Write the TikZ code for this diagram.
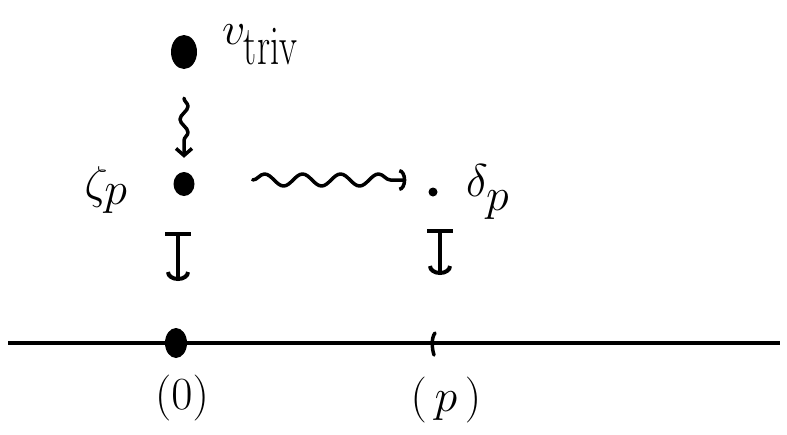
\RequirePackage{fix-cm}
\documentclass[tikz,border=0pt]{standalone}
\usepackage{graphicx}
\usetikzlibrary{arrows.meta,decorations.pathmorphing,shapes.geometric}
\begin{document}
\begin{tikzpicture}[x=1pt,y=-1pt,
  ink/.style={line width=4pt, line cap=round, line join=round},
  dot/.style={ellipse, fill=black, inner sep=0pt},
  lab/.style={inner sep=0pt, font=\fontsize{46}{46}\selectfont},
  mapsto/.style={ink, {Bar[width=26pt,line width=4pt]}-{Arc Barb[length=9pt,width=24pt,line width=4pt]}},
]
\useasboundingbox (0,0) rectangle (787,434);

% dots
\node[dot, minimum width=26pt, minimum height=34pt] (vdot) at (184,52) {};
\node[dot, minimum width=21pt, minimum height=24pt] (zdot) at (184,184) {};
\node[circle, fill=black, inner sep=0pt, minimum size=9pt] (ddot) at (433,192) {};
\node[dot, minimum width=22pt, minimum height=30pt] (odot) at (176,343) {};

% labels
\node[lab, anchor=base west] (vlab) at (222,44) {$v_{\raisebox{-9pt}{\scalebox{0.8}[1.2]{$\textstyle\mathrm{triv}$}}}$};
\node[lab] (zlab) at (106,190) {$\zeta_{\textstyle p}$};
\node[lab, anchor=base west] (dlab) at (466,196) {$\delta_{\raisebox{-8pt}{$\textstyle p$}}$};
\node[lab] (olab) at (182,398) {$(0)$};
\node[lab] (plab) at (446,400) {$(\,p\,)$};

% axis
\coordinate (L) at (8,343);
\coordinate (R) at (780,343);
\draw[line width=3.5pt] (L) -- (R);
\coordinate (ptick) at (434,344);
\draw[ink, line width=3.5pt] ([shift={(1pt,11pt)}]ptick) .. controls ([shift={(-3pt,6pt)}]ptick) and ([shift={(-2pt,-5pt)}]ptick) .. ([shift={(0pt,-11pt)}]ptick);

% squiggly arrows
\draw[ink, line width=3.5pt, decorate, decoration={snake, amplitude=4pt, segment length=26pt, post length=10pt},
  -{Straight Barb[length=7pt,width=16pt,line width=3.5pt]}]
  ([yshift=-29pt]vdot.south) -- ([yshift=14pt]zdot.north);
\draw[ink, line width=3.5pt, decorate, decoration={snake, amplitude=6pt, segment length=38pt, post length=4pt},
  -{Arc Barb[length=7pt,width=22pt,line width=3.5pt]}]
  ([shift={(58pt,4pt)}]zdot.east) -- ([shift={(-22pt,12pt)}]ddot.west);

% maps-to arrows
\coordinate (m1s) at (178,232);
\coordinate (m1e) at (178,281);
\coordinate (m2s) at (440,229);
\coordinate (m2e) at (440,275);
\draw[mapsto] (m1s) -- (m1e);
\draw[mapsto] (m2s) -- (m2e);
\end{tikzpicture}
\end{document}
